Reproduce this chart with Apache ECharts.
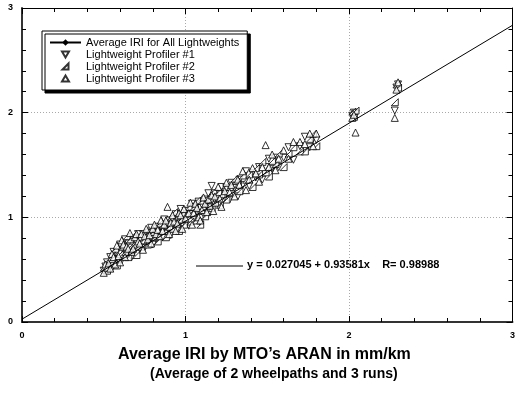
<!DOCTYPE html>
<html>
<head>
<meta charset="utf-8">
<script src="https://cdn.jsdelivr.net/npm/echarts@6/dist/echarts.min.js"></script>
<style>
html,body{margin:0;padding:0;background:#fff;}
#c{width:518px;height:408px;}
</style>
</head>
<body>
<div id="c"></div>
<script>
// ARAN IRI (x) for each test section
const aranIRI = [0.50,0.51,0.52,0.53,0.54,0.55,0.56,0.57,0.58,0.59,0.60,0.61,0.62,0.63,0.64,0.65,0.66,0.67,0.68,0.69,0.70,0.71,0.72,0.73,0.74,0.75,0.76,0.77,0.78,0.79,0.80,0.81,0.82,0.83,0.84,0.85,0.86,0.87,0.88,0.89,0.90,0.91,0.92,0.93,0.94,0.95,0.96,0.97,0.98,0.99,1.00,
  1.02,1.03,1.04,1.05,1.06,1.07,1.08,1.09,1.10,1.11,1.12,1.13,1.14,1.15,1.16,1.17,1.18,
  1.20,1.21,1.22,1.24,1.25,1.27,1.28,1.30,1.32,1.33,1.35,1.37,1.39,1.41,1.43,1.45,1.47,1.49,1.51,1.53,1.55,1.57,1.60,1.63,1.66,1.70,1.73,1.76,1.78,1.80,
  2.02,2.03,2.04,2.28,2.29,2.30];
const profiler1 = [0.49,0.53,0.57,0.52,0.62,0.51,0.67,0.60,0.67,0.59,0.74,0.59,0.69,0.79,0.66,0.75,0.71,0.62,0.79,0.69,0.77,0.84,0.70,0.78,0.84,0.71,0.79,0.85,0.79,0.90,0.74,0.86,0.80,0.91,0.85,0.91,0.81,0.98,0.91,0.87,0.97,0.83,0.97,0.93,1.03,0.89,1.00,1.08,0.94,1.00,1.06,
  0.92,1.03,1.13,0.99,1.10,1.04,1.15,0.95,1.12,1.03,1.17,1.10,1.23,1.05,1.30,1.15,1.23,
  1.12,1.22,1.29,1.19,1.28,1.17,1.33,1.28,1.20,1.36,1.31,1.44,1.30,1.42,1.38,1.48,1.36,1.48,1.56,1.46,1.57,1.48,1.57,1.67,1.55,1.68,1.77,1.67,1.75,1.74,
  1.97,2.00,1.99,2.02,2.24,2.27];
const profiler2 = [0.52,0.50,0.49,0.60,0.56,0.60,0.56,0.70,0.54,0.67,0.65,0.72,0.63,0.67,0.82,0.62,0.79,0.73,0.83,0.74,0.64,0.72,0.81,0.72,0.78,0.87,0.83,0.74,0.88,0.82,0.86,0.81,0.89,0.77,0.94,0.88,0.93,0.87,0.81,0.95,0.91,1.00,0.89,1.05,0.96,1.01,0.87,0.98,1.04,0.93,1.03,
  1.10,0.96,1.05,1.10,0.97,1.16,1.06,0.93,1.16,1.10,1.01,1.19,1.13,1.18,1.09,1.25,1.14,
  1.24,1.12,1.22,1.29,1.17,1.29,1.23,1.37,1.32,1.25,1.40,1.36,1.41,1.29,1.47,1.41,1.53,1.43,1.39,1.54,1.51,1.61,1.48,1.61,1.67,1.63,1.63,1.75,1.80,1.68,
  2.01,1.96,2.02,2.10,2.27,2.24];
const profiler3 = [0.47,0.55,0.52,0.56,0.51,0.65,0.62,0.55,0.73,0.63,0.57,0.78,0.74,0.62,0.72,0.70,0.85,0.67,0.70,0.81,0.84,0.77,0.75,0.84,0.69,0.82,0.89,0.79,0.83,0.75,0.89,0.93,0.84,0.88,0.82,0.97,0.87,0.93,0.97,1.10,0.84,0.95,1.02,0.96,0.87,0.94,1.04,1.02,0.89,1.08,0.99,
  1.04,1.14,0.93,1.04,1.13,1.09,1.00,0.97,1.07,1.19,1.13,1.05,1.17,1.11,1.21,1.06,1.20,
  1.29,1.18,1.10,1.25,1.33,1.24,1.31,1.20,1.36,1.31,1.44,1.26,1.36,1.47,1.42,1.34,1.48,1.69,1.48,1.60,1.45,1.56,1.64,1.56,1.72,1.72,1.70,1.80,1.68,1.80,
  1.95,1.98,1.81,1.95,2.22,2.29];
// regression line endpoints (y = 0.027045 + 0.93581x)
const fitX = [0, 3];
const fitY = [0.027, 2.835];
const axisTicks = [0, 1, 2, 3];

const FONT = 'Arial, "Liberation Sans", sans-serif';
const zip = (xs, ys) => xs.map((x, i) => [x, ys[i]]);
const hollow = {color: '#fff', borderColor: '#000', borderWidth: 1};

const chart = echarts.init(document.getElementById('c'), null, {renderer: 'canvas'});

function valAxis(pos, showLabel, thick) {
  return {
    type: 'value', position: pos, min: axisTicks[0], max: axisTicks[axisTicks.length - 1], interval: 1,
    axisLine: {show: true, onZero: false, lineStyle: {color: thick ? '#333' : '#000', width: thick ? 2 : 1}},
    axisTick: {show: true, inside: true, length: 6, lineStyle: {color: '#000', width: 1}},
    minorTick: {show: true, splitNumber: 5, length: 4, lineStyle: {color: '#000', width: 1}},
    axisLabel: {show: showLabel, fontFamily: FONT, fontWeight: 'bold', fontSize: 9, color: '#000', margin: 9},
    splitLine: {show: showLabel, lineStyle: {type: [1, 2], color: '#aaa', width: 1}}
  };
}

// legend icons padded to the full 31x8 icon box so they are not stretched
const ICON_DOWN = 'path://M0,0 M31,8 M12,1 L19,1 L15.5,7 Z';
const ICON_RIGHT = 'path://M0,0 M31,8 M12.5,7 L18.5,7 L18.5,1 Z';
const ICON_UP = 'path://M0,0 M31,8 M12,7 L19,7 L15.5,1 Z';

const option = {
  animation: false,
  backgroundColor: '#fff',
  grid: {left: 22, right: 4, top: 8, bottom: 86, containLabel: false},
  xAxis: [valAxis('bottom', true, true), valAxis('top', false, false)],
  yAxis: [valAxis('left', true, true), valAxis('right', false, false)],
  legend: {
    orient: 'vertical', left: 42, top: 31,
    padding: [6, 8, 6, 7], itemGap: 1, itemWidth: 31, itemHeight: 8,
    backgroundColor: '#fff', borderColor: '#000', borderWidth: 1,
    shadowColor: '#000', shadowBlur: 0, shadowOffsetX: 3, shadowOffsetY: 3,
    textStyle: {fontFamily: FONT, fontSize: 11, color: '#000', lineHeight: 10},
    data: [
      {name: 'Average IRI for All Lightweights'},
      {name: 'Lightweight Profiler #1', icon: ICON_DOWN},
      {name: 'Lightweight Profiler #2', icon: ICON_RIGHT},
      {name: 'Lightweight Profiler #3', icon: ICON_UP}
    ]
  },
  series: [
    {
      name: 'Average IRI for All Lightweights', type: 'line', xAxisIndex: 0, yAxisIndex: 0,
      data: zip(fitX, fitY), symbol: 'diamond', symbolSize: 6, showSymbol: false,
      lineStyle: {color: '#000', width: 1}, itemStyle: {color: '#000'}, z: 3
    },
    {
      name: 'Lightweight Profiler #1', type: 'scatter', data: zip(aranIRI, profiler1),
      symbol: 'triangle', symbolRotate: 180, symbolSize: 7, symbolKeepAspect: true, itemStyle: hollow
    },
    {
      name: 'Lightweight Profiler #2', type: 'scatter', data: zip(aranIRI, profiler2),
      symbol: 'path://M0,10 L10,10 L10,0 Z', symbolSize: 7, symbolKeepAspect: true, itemStyle: hollow
    },
    {
      name: 'Lightweight Profiler #3', type: 'scatter', data: zip(aranIRI, profiler3),
      symbol: 'triangle', symbolSize: 7, symbolKeepAspect: true, itemStyle: hollow
    }
  ],
  graphic: [
    {type: 'line', shape: {x1: 196, y1: 266, x2: 243, y2: 266}, style: {stroke: '#000', lineWidth: 1}},
    {type: 'text', left: 247, top: 259, style: {text: 'y = 0.027045 + 0.93581x    R= 0.98988', font: 'bold 11px ' + FONT, fill: '#000'}},
    {type: 'text', left: 118, top: 347, style: {text: 'Average IRI by MTO\u2019s ARAN in mm/km', font: 'bold 16px ' + FONT, fill: '#000'}},
    {type: 'text', left: 150, top: 367, style: {text: '(Average of 2 wheelpaths and 3 runs)', font: 'bold 14px ' + FONT, fill: '#000'}}
  ]
};
chart.setOption(option);
</script>
</body>
</html>
